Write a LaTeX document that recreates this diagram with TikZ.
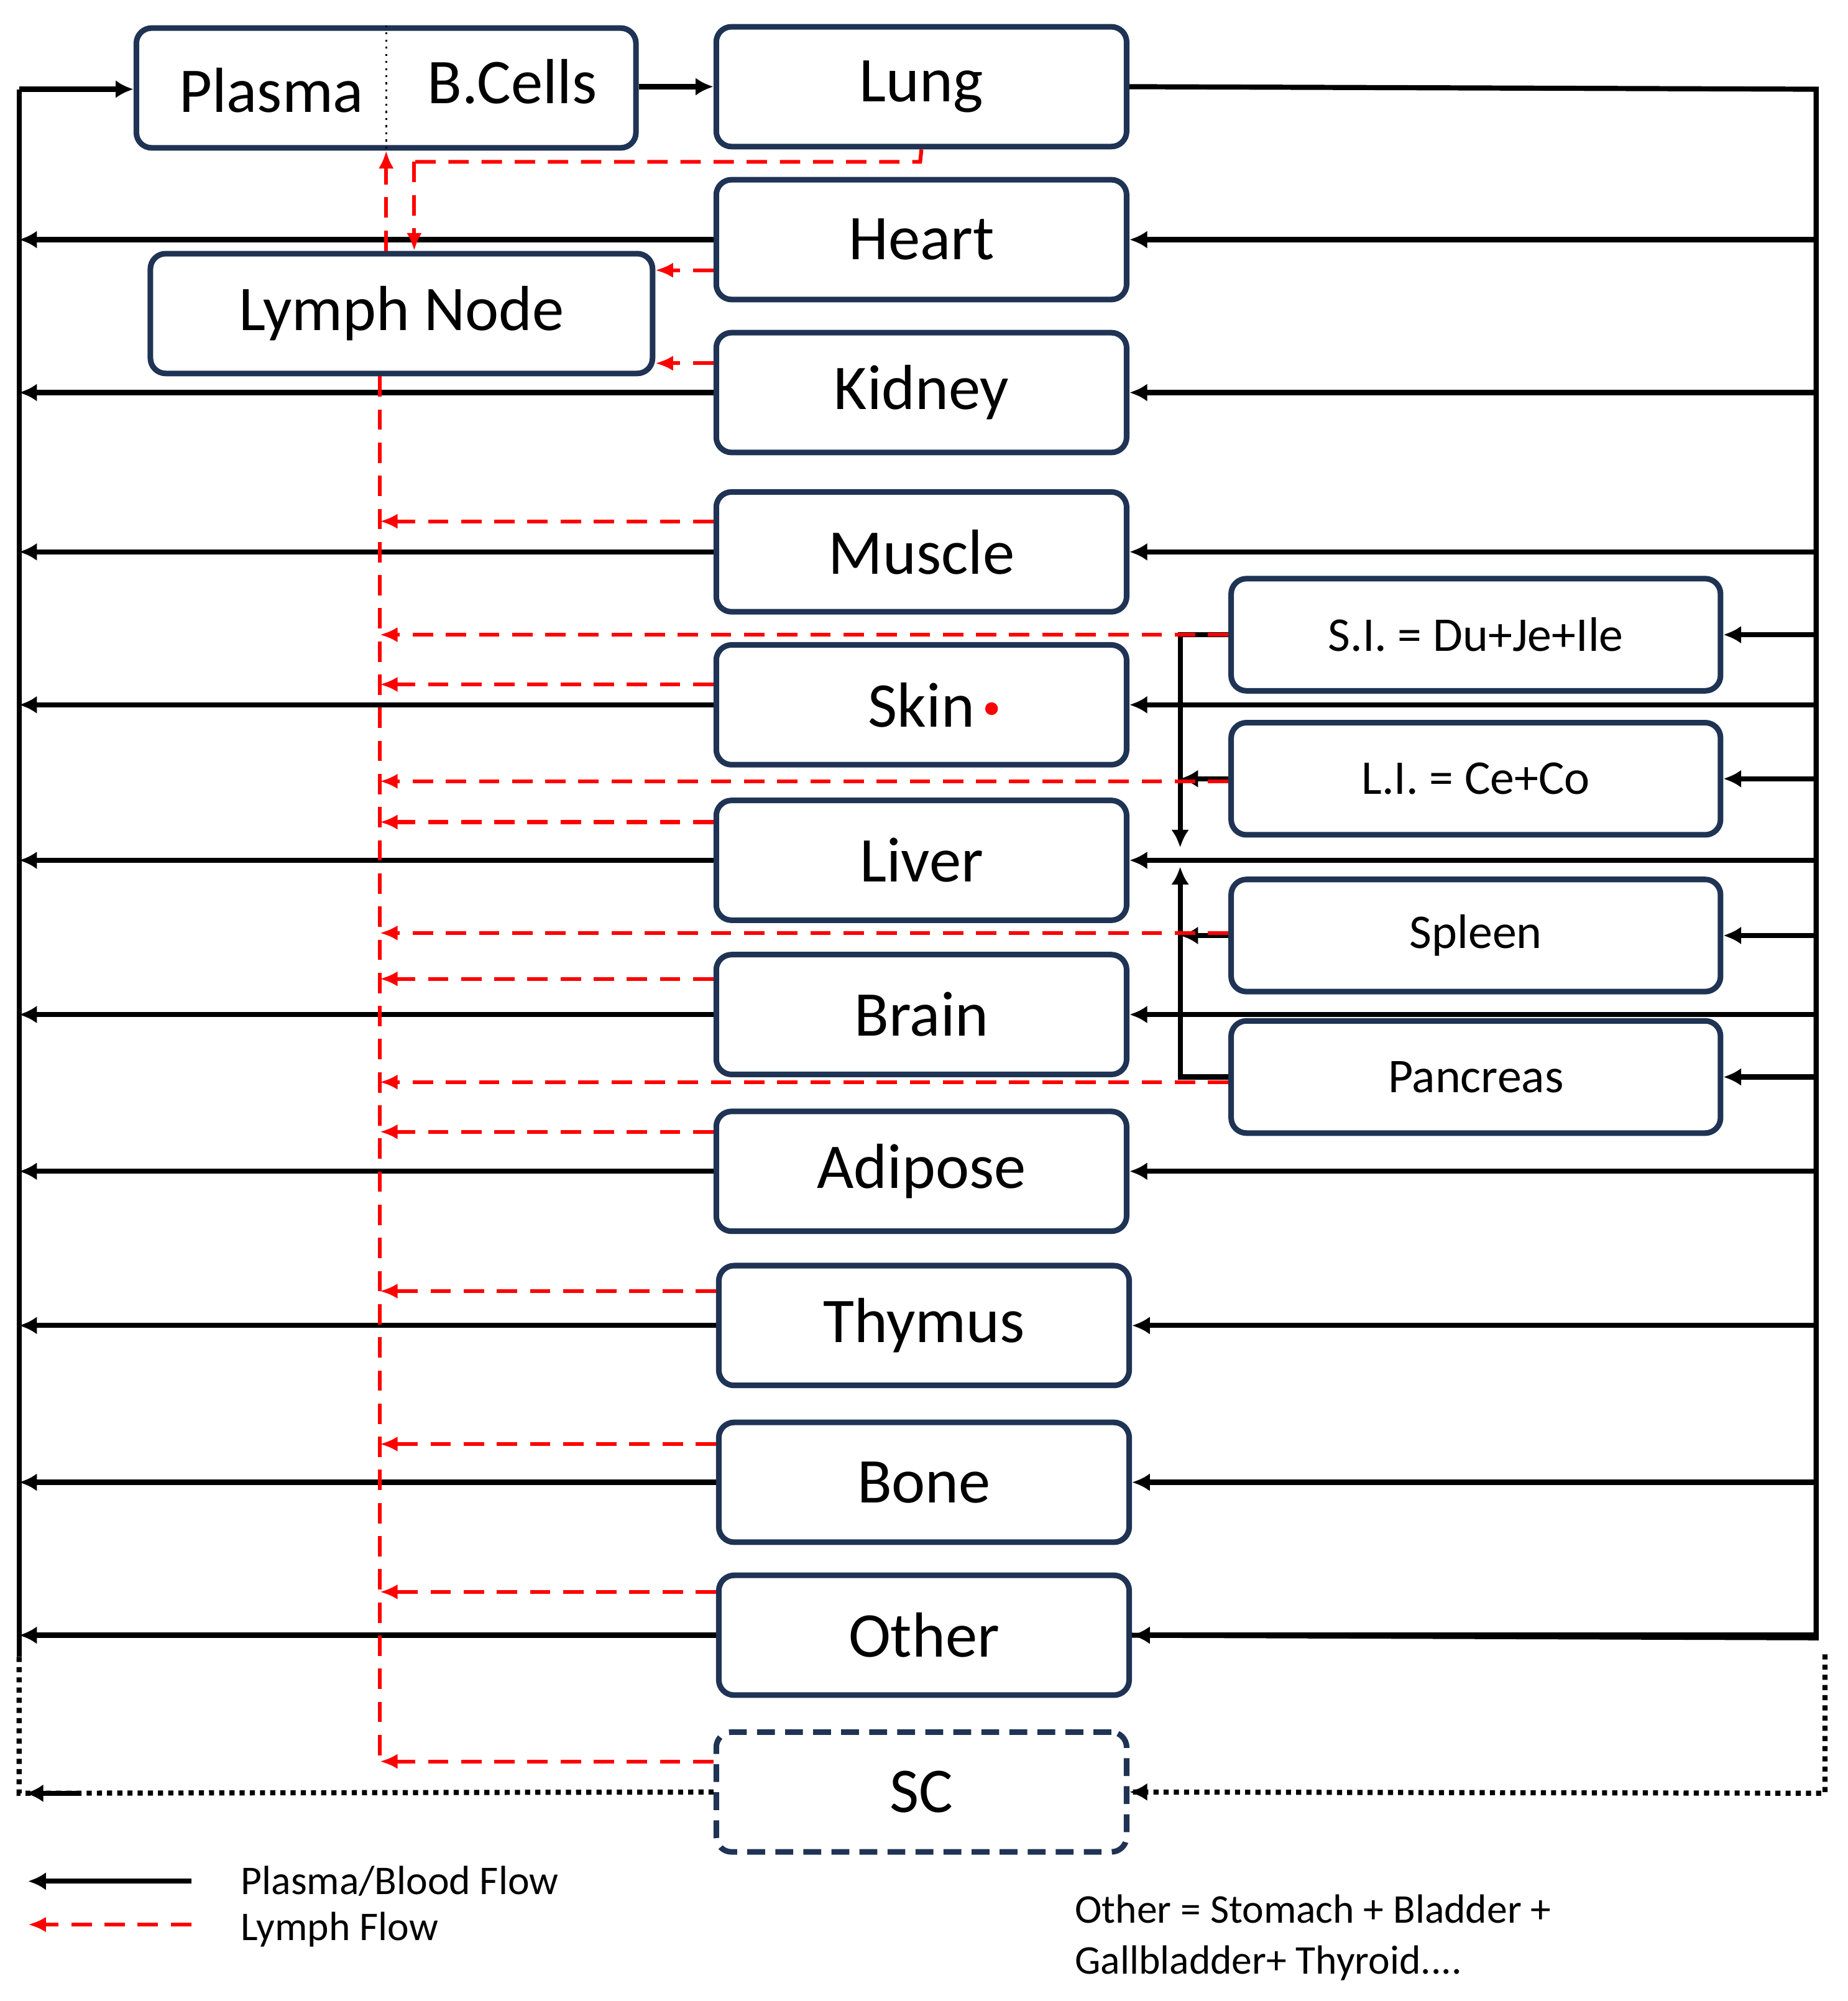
\documentclass[tikz,border=0pt]{standalone}
\usepackage{fontspec}
\setmainfont{Carlito}
\usetikzlibrary{arrows.meta,calc}
\definecolor{navy}{HTML}{1F3354}
\tikzset{
 x=0.5pt,y=-0.5pt,
 organ/.style={draw=navy,line width=2.2pt,rounded corners=6pt,minimum width=161pt,minimum height=47pt,font=\fontsize{25}{28}\selectfont,inner sep=0pt},
 small/.style={draw=navy,line width=2.2pt,rounded corners=6pt,minimum width=192pt,minimum height=44pt,font=\fontsize{19}{21}\selectfont,inner sep=0pt},
 blood/.style={line width=2pt,-{Latex[length=7pt,width=7pt]}},
 bline/.style={line width=2pt},
 lymph/.style={red,line width=1.5pt,dash pattern=on 8pt off 5pt,-{Latex[length=7pt,width=6pt]}},
 lline/.style={red,line width=1.5pt,dash pattern=on 8pt off 5pt},
}
\begin{document}
\begin{tikzpicture}
\useasboundingbox (0,0) rectangle (1450,1570);
% nodes
\node[organ,minimum width=196pt] (pb) at (303,69) {};
\node[font=\fontsize{25}{28}\selectfont] (plasma) at (213,71) {Plasma};
\node[font=\fontsize{25}{28}\selectfont] (bcells) at (402,64) {B.Cells};
\draw[line width=0.8pt,dotted] (pb.north) -- (pb.south);
\node[organ] (lung) at (723,68) {Lung};
\node[organ] (heart) at (723,188) {Heart};
\node[organ,minimum width=197pt] (ln) at (315,246) {Lymph Node};
\node[organ] (kidney) at (723,308) {Kidney};
\node[organ] (muscle) at (723,433) {Muscle};
\node[organ] (skin) at (723,553) {Skin};
\fill[red] (778,556) circle (2.5pt);
\node[organ] (liver) at (723,675) {Liver};
\node[organ] (brain) at (723,796) {Brain};
\node[organ] (adipose) at (723,919) {Adipose};
\node[organ] (thymus) at (725,1040) {Thymus};
\node[organ] (bone) at (725,1163) {Bone};
\node[organ] (other) at (725,1283) {Other};
\node[organ,dashed,dash pattern=on 7pt off 4pt] (sc) at (723,1406) {SC};
\node[small] (si) at (1158,498) {S.I. = Du+Je+Ile};
\node[small] (li) at (1158,611) {L.I. = Ce+Co};
\node[small] (spleen) at (1158,734) {Spleen};
\node[small] (pan) at (1158,845) {Pancreas};
% buses
\coordinate (R) at (1425,70);
\coordinate (Rb) at (1425,1285);
\coordinate (L) at (15,1300);
\coordinate (Lt) at (15,70);
\coordinate (LB) at (298,1382);
\coordinate (G) at (926,498);
% plasma to lung
\draw[blood] (pb.east|-lung) -- (lung.west);
% lung to right bus
\draw[bline] (lung.east) -- (R) -- (Rb) -- (other.east);
\foreach \n in {heart,kidney,muscle,skin,liver,brain,adipose,thymus,bone,other,si,li,spleen,pan}
  \draw[blood] (R |- \n.east) -- (\n.east);
% left bus
\draw[bline] (L) -- (Lt);
\draw[blood] (Lt) -- (pb.west|-Lt);
\foreach \n in {heart,kidney,muscle,skin,liver,brain,adipose,thymus,bone,other}
  \draw[blood] (\n.west) -- (L |- \n.west);
% SC dotted
\draw[line width=2pt,dotted] (1432,1298) -- (1432,1407) -- (sc.east);
\draw[line width=2pt,-{Latex[length=7pt,width=7pt]}] (sc.east)++(2pt,0) -- (sc.east);
\draw[line width=2pt,dotted] (L) -- (15,1407) -- (sc.west);
\draw[blood] (60,1407) -- (20,1407);
% splanchnic to liver
\draw[bline] (si.west) -- (G) -- (926,650);
\draw[blood] (926,640) -- (926,665);
\draw[bline] (pan.west) -- (G |- pan.west) -- (926,700);
\draw[blood] (926,700) -- (926,680);
\draw[blood] (li.west) -- (G |- li.west);
\draw[blood] (spleen.west) -- (G |- spleen.west);
% lymph
\draw[lline] (lung.south) -- (722,127) -- (325,127);
\draw[lymph] (325,127) -- (ln.north-|325,0);
\draw[lymph] (ln.north-|303,0) -- (pb.south-|303,0);
\coordinate (hl) at ([yshift=-12pt]heart.west);
\draw[lymph] (hl) -- (hl-|ln.east);
\coordinate (kl) at ([yshift=11.5pt]kidney.west);
\draw[lymph] (kl) -- (kl-|ln.east);
\draw[lline] (ln.south-|LB) -- (LB);
\foreach \n/\s in {muscle/12,skin/8,liver/15,brain/14,adipose/15.5,thymus/13.5,bone/15,other/17,sc/12,si/0,li/-1,spleen/1,pan/-2}{
  \coordinate (t) at ([yshift=\s pt]\n.west);
  \draw[lymph] (t) -- (t-|LB);
}
% legend
\coordinate (k1) at (22,1476);
\coordinate (k2) at (22,1510);
\draw[blood] (150,1476) -- (k1);
\draw[lymph] (150,1510) -- (k2);
\node[anchor=west,font=\fontsize{16}{18}\selectfont] (lg1) at (182,1476) {Plasma/Blood Flow};
\node[anchor=west,font=\fontsize{16}{18}\selectfont] (lg2) at (182,1514) {Lymph Flow};
\node[anchor=north west,align=left,font=\fontsize{16}{20}\selectfont,inner sep=0pt] (note) at (843,1486) {Other = Stomach + Bladder +\\Gallbladder+ Thyroid....};
\end{tikzpicture}
\end{document}
